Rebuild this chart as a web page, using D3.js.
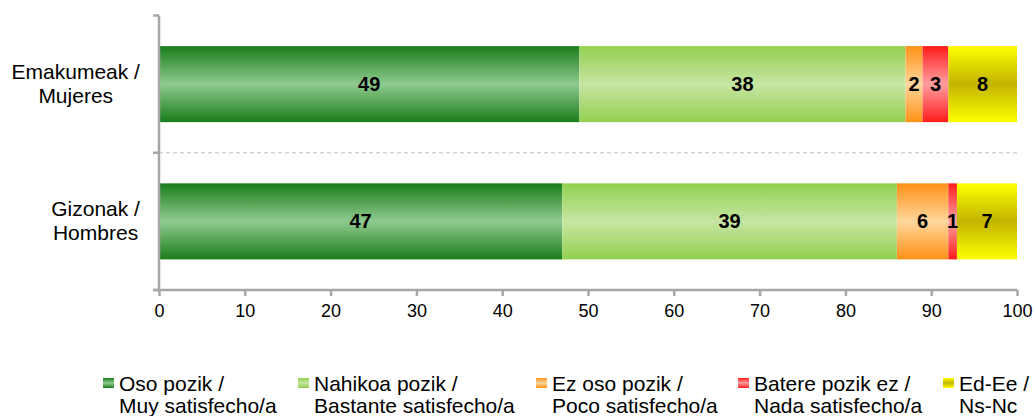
<!DOCTYPE html>
<html>
<head>
<meta charset="utf-8">
<script src="https://cdn.jsdelivr.net/npm/d3@7"></script>
<style>
  body { margin: 0; background: #fff; }
  svg { display: block; font-family: "Liberation Sans", Arial, sans-serif; }
</style>
</head>
<body>
<div id="chart"></div>
<script>
// data
var categories = [["Emakumeak /", "Mujeres"], ["Gizonak /", "Hombres"]];
var seriesNames = [
  ["Oso pozik /", "Muy satisfecho/a"],
  ["Nahikoa pozik /", "Bastante satisfecho/a"],
  ["Ez oso pozik /", "Poco satisfecho/a"],
  ["Batere pozik ez /", "Nada satisfecho/a"],
  ["Ed-Ee /", "Ns-Nc"]
];
var osoPozik = [49, 47];
var nahikoaPozik = [38, 39];
var ezOsoPozik = [2, 6];
var baterePozikEz = [3, 1];
var edEe = [8, 7];
var xTicks = [0, 10, 20, 30, 40, 50, 60, 70, 80, 90, 100];

// gradient colours: [edge, middle]
var grads = [
  ['#1a7d1a', '#8fca8f'],
  ['#92d050', '#c6e5a2'],
  ['#ff9116', '#ffd69c'],
  ['#ff1c1c', '#ff9e9e'],
  ['#ffff00', '#c2b400']
];
var axisColor = '#a6a6a6';

var W = 1034, H = 416;
var margin = { top: 15.5, left: 159, right: 17, bottom: 126 };
var width = W - margin.left - margin.right,
    height = H - margin.top - margin.bottom;

var seriesValues = [osoPozik, nahikoaPozik, ezOsoPozik, baterePozikEz, edEe];

var svg = d3.select('#chart').append('svg')
  .attr('width', W)
  .attr('height', H);

var defs = svg.append('defs');
grads.forEach(function(g, i) {
  var lg = defs.append('linearGradient')
    .attr('id', 'grad' + i)
    .attr('x1', 0).attr('y1', 0).attr('x2', 0).attr('y2', 1);
  lg.append('stop').attr('offset', '0%').attr('stop-color', g[0]);
  lg.append('stop').attr('offset', '50%').attr('stop-color', g[1]);
  lg.append('stop').attr('offset', '100%').attr('stop-color', g[0]);
});

var xScale = d3.scaleLinear().domain([0, 100]).range([0, width]);
var yScale = d3.scaleBand()
  .domain(d3.range(categories.length))
  .range([0, height])
  .paddingInner(0.446)
  .paddingOuter(0.223);

var g = svg.append('g')
  .attr('transform', 'translate(' + margin.left + ',' + margin.top + ')');

// dashed separator between categories
g.append('line')
  .attr('x1', 0).attr('x2', width)
  .attr('y1', height / 2).attr('y2', height / 2)
  .attr('stroke', '#c0c0c0')
  .attr('stroke-width', 1)
  .attr('stroke-dasharray', '4,3');

// stacked bars
var rows = categories.map(function(c, ci) {
  var x0 = 0;
  return seriesValues.map(function(vals, si) {
    var seg = { cat: ci, series: si, value: vals[ci], start: x0 };
    x0 += vals[ci];
    return seg;
  });
});
var segs = d3.merge(rows);

g.selectAll('rect.seg').data(segs)
  .enter().append('rect')
  .attr('class', 'seg')
  .attr('x', function(d) { return xScale(d.start); })
  .attr('width', function(d) { return xScale(d.start + d.value) - xScale(d.start); })
  .attr('y', function(d) { return yScale(d.cat); })
  .attr('height', yScale.bandwidth())
  .style('fill', function(d) { return 'url(#grad' + d.series + ')'; });

g.selectAll('text.val').data(segs)
  .enter().append('text')
  .attr('class', 'val')
  .attr('x', function(d) { return xScale(d.start + d.value / 2); })
  .attr('y', function(d) { return yScale(d.cat) + yScale.bandwidth() / 2 + 7; })
  .attr('text-anchor', 'middle')
  .style('font-size', '20px')
  .style('font-weight', 'bold')
  .style('fill', '#000')
  .text(function(d) { return d.value; });

// x axis
var xAxis = d3.axisBottom(xScale).tickValues(xTicks).tickSize(6).tickPadding(8);
var xg = g.append('g')
  .attr('transform', 'translate(0,' + height + ')')
  .call(xAxis);
xg.select('.domain').attr('stroke', axisColor).attr('stroke-width', 2.5)
  .attr('d', 'M-6,0H' + width);
xg.selectAll('.tick line').attr('stroke', axisColor).attr('stroke-width', 2.5);
xg.selectAll('.tick text')
  .style('font-size', '18px')
  .style('font-family', '"Liberation Sans", Arial, sans-serif')
  .style('fill', '#000');

// y axis: ticks on category boundaries
var yg = g.append('g');
yg.append('line')
  .attr('x1', 0).attr('x2', 0)
  .attr('y1', 0).attr('y2', height)
  .attr('stroke', axisColor).attr('stroke-width', 2.5);
yg.selectAll('line.ytick').data([0, height / 2, height])
  .enter().append('line')
  .attr('class', 'ytick')
  .attr('x1', -6).attr('x2', 0)
  .attr('y1', function(d) { return d; }).attr('y2', function(d) { return d; })
  .attr('stroke', axisColor).attr('stroke-width', 2.5);

// category labels, centered block right-aligned near x=140
categories.forEach(function(lines, ci) {
  var cy = margin.top + yScale(ci) + yScale.bandwidth() / 2;
  var t = svg.append('text')
    .style('font-size', '21px')
    .style('fill', '#000')
    .attr('text-anchor', 'middle');
  lines.forEach(function(l, li) {
    t.append('tspan').attr('x', 0)
      .attr('y', cy - 5 + li * 24)
      .text(l);
  });
  var w = t.node().getBBox().width;
  t.selectAll('tspan').attr('x', 140 - w / 2);
});

// legend
var legendX = [103, 298, 536, 738, 943];
var leg = svg.append('g');
seriesNames.forEach(function(lines, i) {
  leg.append('rect')
    .attr('x', legendX[i]).attr('y', 378)
    .attr('width', 11).attr('height', 10)
    .style('fill', 'url(#grad' + i + ')');
  var t = leg.append('text')
    .style('font-size', '21px')
    .style('fill', '#000');
  lines.forEach(function(l, li) {
    t.append('tspan')
      .attr('x', legendX[i] + 16)
      .attr('y', 391 + li * 22)
      .text(l);
  });
});
</script>
</body>
</html>
